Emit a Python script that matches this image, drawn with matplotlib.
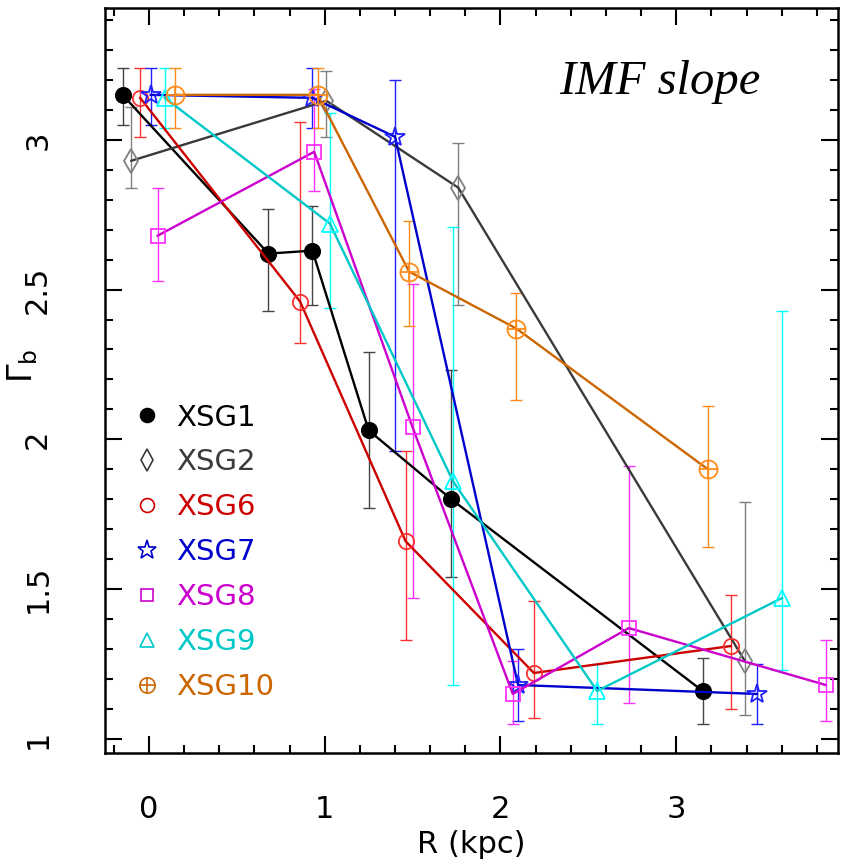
import numpy as np
import matplotlib
matplotlib.use('Agg')
import matplotlib.pyplot as plt
from matplotlib.lines import Line2D
from matplotlib.legend_handler import HandlerTuple
from matplotlib.ticker import MultipleLocator, FuncFormatter

plt.rcParams['font.family'] = ['DejaVu Sans']
plt.rcParams['mathtext.fontset'] = 'dejavusans'

# ---- data: R (kpc), Gamma_b, upper / lower error limits
r1 = [-0.15, 0.68, 0.93, 1.25, 1.72, 3.15]
g1 = [3.15, 2.62, 2.63, 2.03, 1.80, 1.16]
hi1 = [3.24, 2.77, 2.78, 2.29, 2.23, 1.27]
lo1 = [3.05, 2.43, 2.45, 1.77, 1.54, 1.05]

r2 = [-0.10, 1.01, 1.76, 3.39]
g2 = [2.93, 3.13, 2.84, 1.26]
hi2 = [3.11, 3.23, 2.99, 1.79]
lo2 = [2.84, 3.01, 2.45, 1.08]

r6 = [-0.05, 0.86, 1.46, 2.19, 3.31]
g6 = [3.14, 2.46, 1.66, 1.22, 1.31]
hi6 = [3.24, 3.06, 1.96, 1.46, 1.48]
lo6 = [3.01, 2.32, 1.33, 1.07, 1.10]

r7 = [0.01, 0.93, 1.40, 2.10, 3.46]
g7 = [3.15, 3.14, 3.01, 1.18, 1.15]
hi7 = [3.24, 3.24, 3.20, 1.30, 1.25]
lo7 = [3.05, 3.04, 1.96, 1.06, 1.05]

r8 = [0.05, 0.94, 1.50, 2.07, 2.73, 3.85]
g8 = [2.68, 2.96, 2.04, 1.15, 1.37, 1.18]
hi8 = [2.84, 3.17, 2.52, 1.26, 1.91, 1.33]
lo8 = [2.53, 2.83, 1.47, 1.05, 1.12, 1.06]

r9 = [0.09, 1.03, 1.73, 2.55, 3.60]
g9 = [3.14, 2.72, 1.86, 1.16, 1.47]
hi9 = [3.24, 3.09, 2.71, 1.25, 2.43]
lo9 = [3.04, 2.44, 1.18, 1.05, 1.23]

r10 = [0.15, 0.96, 1.48, 2.09, 3.18]
g10 = [3.15, 3.15, 2.56, 2.37, 1.90]
hi10 = [3.24, 3.24, 2.73, 2.49, 2.11]
lo10 = [3.04, 3.04, 2.38, 2.13, 1.64]

names = ['XSG1', 'XSG2', 'XSG6', 'XSG7', 'XSG8', 'XSG9', 'XSG10']
line_colors = ['#000000', '#3a3a3a', '#cc0000', '#0000cc', '#cc00cc', '#00c8c8', '#cc6600']
err_colors = ['#444444', '#808080', '#ff3030', '#2020ff', '#ff30ff', '#00ffff', '#ff8c1a']
markers = ['o', 'd', 'o', '*', 's', '^', 'oplus']
sizes = [11, 12, 11, 15, 10, 11, 13]

series = [(r1, g1, hi1, lo1), (r2, g2, hi2, lo2), (r6, g6, hi6, lo6),
          (r7, g7, hi7, lo7), (r8, g8, hi8, lo8), (r9, g9, hi9, lo9),
          (r10, g10, hi10, lo10)]

fig = plt.figure(figsize=(8.48, 8.67), dpi=100)
ax = fig.add_axes([0.1238, 0.1315, 0.8644, 0.8593])

handles = []
for i, (r, g, hi, lo) in enumerate(series):
    r = np.array(r)
    g = np.array(g)
    yerr = [g - np.array(lo), np.array(hi) - g]
    ax.errorbar(r, g, yerr=yerr, fmt='none', ecolor=err_colors[i],
                elinewidth=1.0, capsize=4, capthick=1.0, zorder=2)
    filled = i == 0
    if markers[i] == 'oplus':
        ax.plot(r, g, '-', color=line_colors[i], lw=1.7, zorder=3)
        ax.plot(r, g, 'o', ms=sizes[i], mfc='none', mec=err_colors[i], mew=1.3, zorder=4)
        ax.plot(r, g, '+', ms=sizes[i], mec=err_colors[i], mew=1.3, zorder=4)
        h = (Line2D([], [], ls='none', marker='o', ms=11, mfc='none',
                    mec=line_colors[i], mew=1.2),
             Line2D([], [], ls='none', marker='+', ms=11, mec=line_colors[i], mew=1.2))
    else:
        ax.plot(r, g, '-', color=line_colors[i], lw=1.7, marker=markers[i], ms=sizes[i],
                mfc=line_colors[i] if filled else 'none',
                mec=line_colors[i] if filled else err_colors[i], mew=1.3, zorder=3)
        h = Line2D([], [], ls='none', marker=markers[i], ms=sizes[i] - 1,
                   mfc=line_colors[i] if filled else 'none',
                   mec=line_colors[i], mew=1.2)
    handles.append(h)

leg = ax.legend(handles, names, loc='upper left', bbox_to_anchor=(0.037, 0.469),
                frameon=False, fontsize=21, handlelength=1.0, handletextpad=0.5,
                labelspacing=0.58, borderaxespad=0, borderpad=0,
                handler_map={tuple: HandlerTuple(ndivide=1, pad=0)})
for txt, col in zip(leg.get_texts(), line_colors):
    txt.set_color(col)

ax.text(0.757, 0.884, 'IMF slope', transform=ax.transAxes, ha='center',
        va='baseline', fontsize=35, style='italic', family='Liberation Serif')

ax.set_xlim(-0.25, 3.92)
ax.set_ylim(0.953, 3.44)
ax.xaxis.set_major_locator(MultipleLocator(1))
ax.xaxis.set_minor_locator(MultipleLocator(0.2))
ax.yaxis.set_major_locator(MultipleLocator(0.5))
ax.yaxis.set_minor_locator(MultipleLocator(0.1))
ax.yaxis.set_major_formatter(FuncFormatter(lambda v, p: f'{v:g}'))
ax.tick_params(which='both', direction='in', top=True, right=True, width=1.5)
ax.tick_params(which='major', length=12)
ax.tick_params(which='minor', length=6)
ax.tick_params(axis='x', labelsize=22, pad=30)
ax.tick_params(axis='y', labelsize=22, pad=38)
for lab in ax.get_yticklabels():
    lab.set_rotation(90)
    lab.set_va('center')
for s in ax.spines.values():
    s.set_linewidth(1.8)

ax.set_xlabel('R (kpc)', fontsize=22, va='center')
ax.xaxis.set_label_coords(0.5, -0.123)
ax.set_ylabel(r'$\Gamma_{\rm b}$', fontsize=24, va='center')
ax.yaxis.set_label_coords(-0.113, 0.52)

fig.savefig('out.png', dpi=100)
